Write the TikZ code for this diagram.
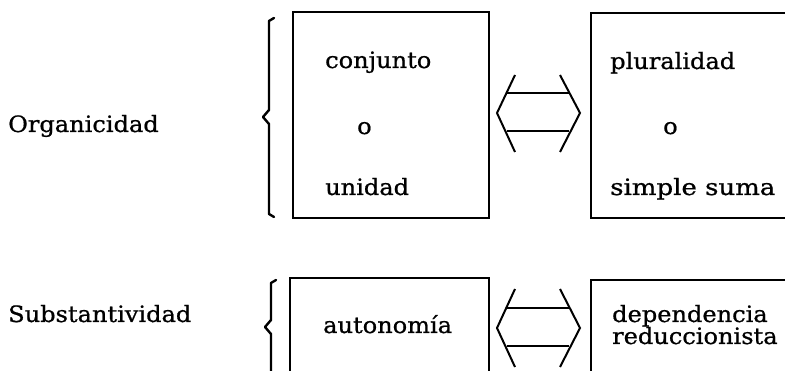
\documentclass[tikz,border=0pt]{standalone}
\usepackage{fontspec}
\setmainfont{DejaVu Serif}[FakeStretch=1.07,FakeBold=0.8]
\begin{document}
\begin{tikzpicture}[x=1pt,y=-1pt,
  lbl/.style={anchor=base west,inner sep=0pt,font=\fontsize{22.5}{22}\selectfont},
  boxnode/.style={draw,line width=2pt,rectangle,inner sep=0pt},
  barb/.style={line width=2pt},
  bar/.style={line width=1.4pt},
  brc/.style={line width=2.4pt,line cap=round,line join=round}]
\useasboundingbox (0,0) rectangle (785,371);
\clip (0,0) rectangle (785,371);
% boxes
\node[boxnode,minimum width=196pt,minimum height=206pt] (b1) at (391,115) {};
\node[boxnode,minimum width=230pt,minimum height=205pt] (b2) at (706,115.5) {};
\node[boxnode,minimum width=199pt,minimum height=120pt] (b3) at (389.5,338) {};
\node[boxnode,minimum width=230pt,minimum height=120pt] (b4) at (706,340) {};
% labels
\node[lbl] (org) at (8,132) {Organicidad};
\node[lbl] (sub) at (8,322) {Substantividad};
\node[lbl] (t1) at (325,68) {conjunto};
\node[lbl] (t2) at (357,134) {o};
\node[lbl] (t3) at (325,195) {unidad};
\node[lbl] (t4) at (610,69) {pluralidad};
\node[lbl] (t5) at (663,134) {o};
\node[lbl,xscale=1.08] (t6) at (610,195) {simple suma};
\node[lbl] (t7) at (323,333) {autonomía};
\node[lbl] (t8) at (612,322) {dependencia};
\node[lbl] (t9) at (612,344) {reduccionista};
% braces
\draw[brc] (274,18) -- (269,21) -- (269,110) -- (263,117) -- (269,124) -- (269,214) -- (274,217);
\draw[brc] (276,280) -- (271,283) -- (271,320) -- (265,327) -- (271,334) -- (271,380);
% double arrows
\coordinate (a1l) at (497,113);
\coordinate (a1r) at (580,113);
\draw[barb] (515,75) -- (a1l) -- (515,152);
\draw[barb] (560,75) -- (a1r) -- (560,152);
\draw[bar] (506.5,93) -- (568.5,93);
\draw[bar] (506.5,131) -- (568.5,131);
\coordinate (a2l) at (497,328);
\coordinate (a2r) at (580,328);
\draw[barb] (515,289) -- (a2l) -- (515,367);
\draw[barb] (560,289) -- (a2r) -- (560,367);
\draw[bar] (506.5,308) -- (568.5,308);
\draw[bar] (506.5,346) -- (568.5,346);
\end{tikzpicture}
\end{document}
